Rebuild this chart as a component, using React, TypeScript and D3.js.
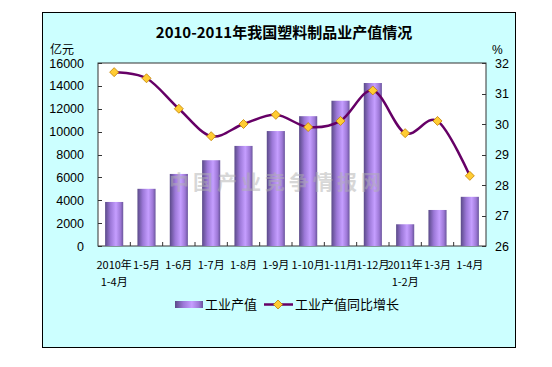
import React from "react";
import * as d3 from "d3";

const categories = ["2010年1-4月", "1-5月", "1-6月", "1-7月", "1-8月", "1-9月", "1-10月", "1-11月", "1-12月", "2011年1-2月", "1-3月", "1-4月"];
const labelLine1 = ["2010年", "1-5月", "1-6月", "1-7月", "1-8月", "1-9月", "1-10月", "1-11月", "1-12月", "2011年", "1-3月", "1-4月"];
const labelLine2 = ["1-4月", "", "", "", "", "", "", "", "", "1-2月", "", ""];
const outputValues = [3850, 5000, 6300, 7500, 8750, 10050, 11350, 12700, 14250, 1900, 3150, 4300];
const growthValues = [31.7, 31.5, 30.5, 29.6, 30.0, 30.3, 29.9, 30.1, 31.1, 29.7, 30.1, 28.3];
const leftTicks = [0, 2000, 4000, 6000, 8000, 10000, 12000, 14000, 16000];
const rightTicks = [26, 27, 28, 29, 30, 31, 32];

const PL = 98, PR = 486, PT = 63, PB = 246;
const cjk = "'Noto Sans CJK SC', 'Liberation Sans', sans-serif";
const latin = "'Liberation Sans', Arial, sans-serif";

export default function App() {
  const x = d3.scaleBand<string>().domain(categories).range([PL, PR]).paddingInner(0.44).paddingOuter(0.22);
  const step = (PR - PL) / categories.length;
  const yL = d3.scaleLinear().domain([0, 16000]).range([PB, PT]);
  const yR = d3.scaleLinear().domain([26, 32]).range([PB, PT]);
  const cx = (c: string) => (x(c) as number) + x.bandwidth() / 2;
  const line = d3.line<number>().x((_, i) => cx(categories[i])).y(d => yR(d)).curve(d3.curveCardinal.tension(0));
  const diamond = (px: number, py: number, r: number) => `M${px},${py - r}L${px + r},${py}L${px},${py + r}L${px - r},${py}Z`;

  return (
    <svg width={552} height={367} style={{ position: "absolute", left: 0, top: 0 }}>
      <defs>
        <linearGradient id="barGrad" x1="0" x2="1" y1="0" y2="0">
          <stop offset="0%" stopColor="#5a4a88" />
          <stop offset="30%" stopColor="#9c78d8" />
          <stop offset="60%" stopColor="#c59eff" />
          <stop offset="85%" stopColor="#9d78d6" />
          <stop offset="100%" stopColor="#6a559c" />
        </linearGradient>
      </defs>
      <rect x={0} y={0} width={552} height={367} fill="#ffffff" />
      <rect x={42.5} y={12.5} width={473} height={335} fill="#ccffff" stroke="#000" strokeWidth={1} />
      <text x={284} y={38} textAnchor="middle" fontFamily={cjk} fontSize={15} fontWeight="bold" fill="#000">2010-2011年我国塑料制品业产值情况</text>
      <text x={50} y={54} fontFamily={cjk} fontSize={12} fill="#000">亿元</text>
      <text x={492} y={54} fontFamily={latin} fontSize={12} fill="#000">%</text>
      <rect x={PL} y={PT} width={PR - PL} height={PB - PT} fill="#ffffff" stroke="#333" strokeWidth={1} />
      {leftTicks.map(t => (
        <g key={"l" + t}>
          <line x1={PL} x2={PL + 4} y1={Math.round(yL(t)) + 0.5} y2={Math.round(yL(t)) + 0.5} stroke="#333" />
          <text x={84} y={yL(t)} dy="0.36em" textAnchor="end" fontFamily={latin} fontSize={12.5} fill="#000">{t}</text>
        </g>
      ))}
      {rightTicks.map(t => (
        <g key={"r" + t}>
          <line x1={PR - 4} x2={PR} y1={Math.round(yR(t)) + 0.5} y2={Math.round(yR(t)) + 0.5} stroke="#333" />
          <text x={495} y={yR(t)} dy="0.36em" textAnchor="start" fontFamily={latin} fontSize={12.5} fill="#000">{t}</text>
        </g>
      ))}
      {categories.slice(1).map((c, i) => (
        <line key={"xt" + i} x1={PL + step * (i + 1)} x2={PL + step * (i + 1)} y1={PB - 4} y2={PB} stroke="#333" />
      ))}
      {outputValues.map((v, i) => (
        <rect key={"b" + i} x={x(categories[i])} y={yL(v)} width={x.bandwidth()} height={PB - yL(v)} fill="url(#barGrad)" />
      ))}
      <text x={277} y={190} textAnchor="middle" fontFamily={cjk} fontSize={20} fontWeight="bold" letterSpacing={4} fill="#b0b0b0" opacity={0.5}>中国产业竞争情报网</text>
      <path d={line(growthValues) || ""} fill="none" stroke="#660066" strokeWidth={2.5} />
      {growthValues.map((v, i) => (
        <path key={"m" + i} d={diamond(cx(categories[i]), yR(v), 4.5)} fill="#ffcc33" stroke="#c08000" strokeWidth={0.8} />
      ))}
      {categories.map((c, i) => (
        <g key={"xl" + i}>
          <text x={cx(c)} y={269} textAnchor="middle" fontFamily={cjk} fontSize={11} fill="#000">{labelLine1[i]}</text>
          {labelLine2[i] && <text x={cx(c)} y={286} textAnchor="middle" fontFamily={cjk} fontSize={11} fill="#000">{labelLine2[i]}</text>}
        </g>
      ))}
      <rect x={175} y={301} width={28} height={7} fill="url(#barGrad)" />
      <text x={205} y={304.5} dy="0.36em" fontFamily={cjk} fontSize={13} fill="#000">工业产值</text>
      <line x1={264} x2={293} y1={304.5} y2={304.5} stroke="#660066" strokeWidth={2.5} />
      <path d={diamond(278, 304.5, 4.5)} fill="#ffcc33" stroke="#c08000" strokeWidth={0.8} />
      <text x={295} y={304.5} dy="0.36em" fontFamily={cjk} fontSize={13} fill="#000">工业产值同比增长</text>
    </svg>
  );
}
